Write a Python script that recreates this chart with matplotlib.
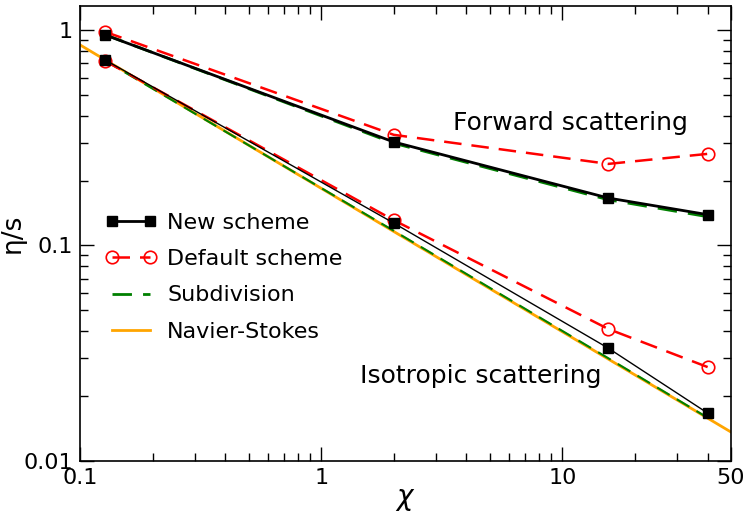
import numpy as np
import matplotlib
matplotlib.use("Agg")
import matplotlib.pyplot as plt
from matplotlib.ticker import LogLocator, NullFormatter, FixedLocator, FixedFormatter

# chi values of the simulated points
chi = [0.127, 2.0, 15.5, 40.0]

# forward scattering
fwd_new = [0.948, 0.302, 0.166, 0.139]
fwd_default = [0.98, 0.326, 0.239, 0.266]
fwd_subdiv = [0.95, 0.298, 0.163, 0.136]

# isotropic scattering
iso_new = [0.726, 0.127, 0.0334, 0.0167]
iso_default = [0.718, 0.131, 0.041, 0.0273]
iso_subdiv = [0.72, 0.117, 0.030, 0.0159]

# Navier-Stokes curve (end points)
ns_chi = [0.1, 50.0]
ns_eta = [0.852, 0.01364]

xticks = [0.1, 1, 10, 50]
xticklabels = ["0.1", "1", "10", "50"]
yticks = [0.01, 0.1, 1]
yticklabels = ["0.01", "0.1", "1"]

plt.rcParams['font.family'] = ['DejaVu Sans']

fig = plt.figure(figsize=(7.47, 5.27), dpi=100)
ax = fig.add_axes([0.107, 0.125, 0.8716, 0.8636])

dash = (0, (7, 4))

ax.plot(ns_chi, ns_eta, color='orange', lw=2, label="Navier-Stokes", zorder=2)

ax.plot(chi, fwd_subdiv, color='green', ls=dash, lw=2, label="Subdivision", zorder=3)
ax.plot(chi, iso_subdiv, color='green', ls=dash, lw=1.5, zorder=3)

ax.plot(chi, fwd_default, color='red', ls=dash, lw=1.8, marker='o', ms=9,
        mfc='none', mec='red', mew=1.2, label="Default scheme", zorder=4)
ax.plot(chi, iso_default, color='red', ls=dash, lw=1.8, marker='o', ms=9,
        mfc='none', mec='red', mew=1.2, zorder=4)

ax.plot(chi, fwd_new, color='black', lw=2, marker='s', ms=7, label="New scheme", zorder=5)
ax.plot(chi, iso_new, color='black', lw=1, marker='s', ms=7, zorder=5)

ax.set_xscale('log')
ax.set_yscale('log')
ax.set_xlim(0.1, 50)
ax.set_ylim(0.01, 1.29)

ax.xaxis.set_major_locator(FixedLocator(xticks))
ax.xaxis.set_major_formatter(FixedFormatter(xticklabels))
ax.yaxis.set_major_locator(FixedLocator(yticks))
ax.yaxis.set_major_formatter(FixedFormatter(yticklabels))
ax.xaxis.set_minor_locator(LogLocator(base=10, subs=np.arange(2, 10)))
ax.yaxis.set_minor_locator(LogLocator(base=10, subs=np.arange(2, 10)))
ax.xaxis.set_minor_formatter(NullFormatter())
ax.yaxis.set_minor_formatter(NullFormatter())

ax.tick_params(which='both', direction='in', top=True, right=True, labelsize=16, width=1)
ax.tick_params(which='major', length=10, pad=5)
ax.tick_params(which='minor', length=6)
for s in ax.spines.values():
    s.set_linewidth(1.2)

ax.set_xlabel(r"$\chi$", fontsize=20, labelpad=-2)
ax.set_ylabel("η/s", fontsize=19)
ax.yaxis.set_label_coords(-0.083, 0.5)

fig.text(0.606, 0.767, "Forward scattering", fontsize=18, ha='left', va='center')
fig.text(0.482, 0.287, "Isotropic scattering", fontsize=18, ha='left', va='center')

handles, labels = ax.get_legend_handles_labels()
order = [3, 2, 1, 0]
ax.legend([handles[i] for i in order], [labels[i] for i in order], loc='upper left',
          bbox_to_anchor=(0.008, 0.59), frameon=False, fontsize=16, numpoints=2,
          handlelength=2.3, handletextpad=0.5, labelspacing=0.74)

fig.savefig("out.png", dpi=100)
